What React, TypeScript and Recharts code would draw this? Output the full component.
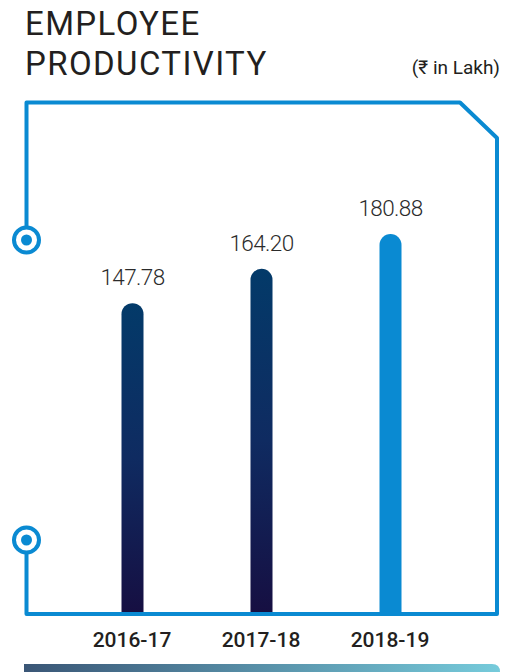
import { BarChart, Bar, XAxis, YAxis, Cell, LabelList } from 'recharts'

const years = ['2016-17', '2017-18', '2018-19']
const productivity = [147.78, 164.2, 180.88]
const barFills = ['url(#darkBar)', 'url(#darkBar)', '#0a8ad2']

const data = years.map((y, i) => ({ year: y, value: productivity[i] }))

const BLUE = '#0a8ad2'
const FONT = "Roboto, 'Noto Sans', 'DejaVu Sans', sans-serif"

function YearTick(props: any) {
  const { x, y, payload } = props
  return (
    <text x={x} y={y + 35} textAnchor="middle" fill="#231f20" fontSize={21} fontWeight={500} fontFamily={FONT}>
      {payload.value}
    </text>
  )
}

function Decor() {
  return (
    <svg width={513} height={672} style={{ position: 'absolute', left: 0, top: 0 }}>
      <defs>
        <linearGradient id="footGrad" x1="0" y1="0" x2="1" y2="0">
          <stop offset="0%" stopColor="#3a5676" />
          <stop offset="100%" stopColor="#76cbdb" />
        </linearGradient>
      </defs>
      <text x={25} y={35} fontSize={33} letterSpacing={1.4} fill="#231f20" fontFamily={FONT}>EMPLOYEE</text>
      <text x={25} y={75} fontSize={33} letterSpacing={1.4} fill="#231f20" fontFamily={FONT}>PRODUCTIVITY</text>
      <text x={500} y={74} fontSize={19} fill="#231f20" textAnchor="end" fontFamily={FONT}>(₹ in Lakh)</text>
      {/* frame */}
      <path
        d="M26.5 227 L26.5 102.5 L460 102.5 L497 138 L497 614 L26.5 614 L26.5 553"
        fill="none"
        stroke={BLUE}
        strokeWidth={4}
        strokeLinejoin="round"
      />
      {[240, 540].map(cy => (
        <g key={cy}>
          <circle cx={26.5} cy={cy} r={12.5} fill="#fff" stroke={BLUE} strokeWidth={4} />
          <circle cx={26.5} cy={cy} r={5.5} fill={BLUE} />
        </g>
      ))}
      <path d="M24 664 L492 664 Q500 664 500 672 L500 684 L24 684 Z" fill="url(#footGrad)" />
    </svg>
  )
}

export default function App() {
  return (
    <div style={{ position: 'absolute', left: 0, top: 0, width: 513, height: 672, background: '#fff', overflow: 'hidden' }}>
      <Decor />
      <div style={{ position: 'absolute', left: 0, top: 0 }}>
        <BarChart width={513} height={672} data={data} margin={{ top: 194, right: 58.5, bottom: 20, left: 67.5 }}>
          <defs>
            <linearGradient id="darkBar" x1="0" y1="0" x2="0" y2="1">
              <stop offset="0%" stopColor="#033a69" />
              <stop offset="50%" stopColor="#0f2b61" />
              <stop offset="100%" stopColor="#160f42" />
            </linearGradient>
          </defs>
          <XAxis dataKey="year" axisLine={false} tickLine={false} tickSize={0} tickMargin={0} height={40} tick={<YearTick />} interval={0} />
          <YAxis hide domain={[0, 200]} />
          <Bar dataKey="value" barSize={22} radius={[11, 11, 0, 0]} isAnimationActive={false}>
            {data.map((d, i) => (
              <Cell key={d.year} fill={barFills[i]} />
            ))}
            <LabelList
              dataKey="value"
              position="top"
              offset={18}
              formatter={(v: any) => Number(v).toFixed(2)}
              fill="#2b2b2b"
              fontSize={22.5}
              fontWeight={300}
              letterSpacing={-0.6}
              fontFamily={FONT}
            />
          </Bar>
        </BarChart>
      </div>
    </div>
  )
}
